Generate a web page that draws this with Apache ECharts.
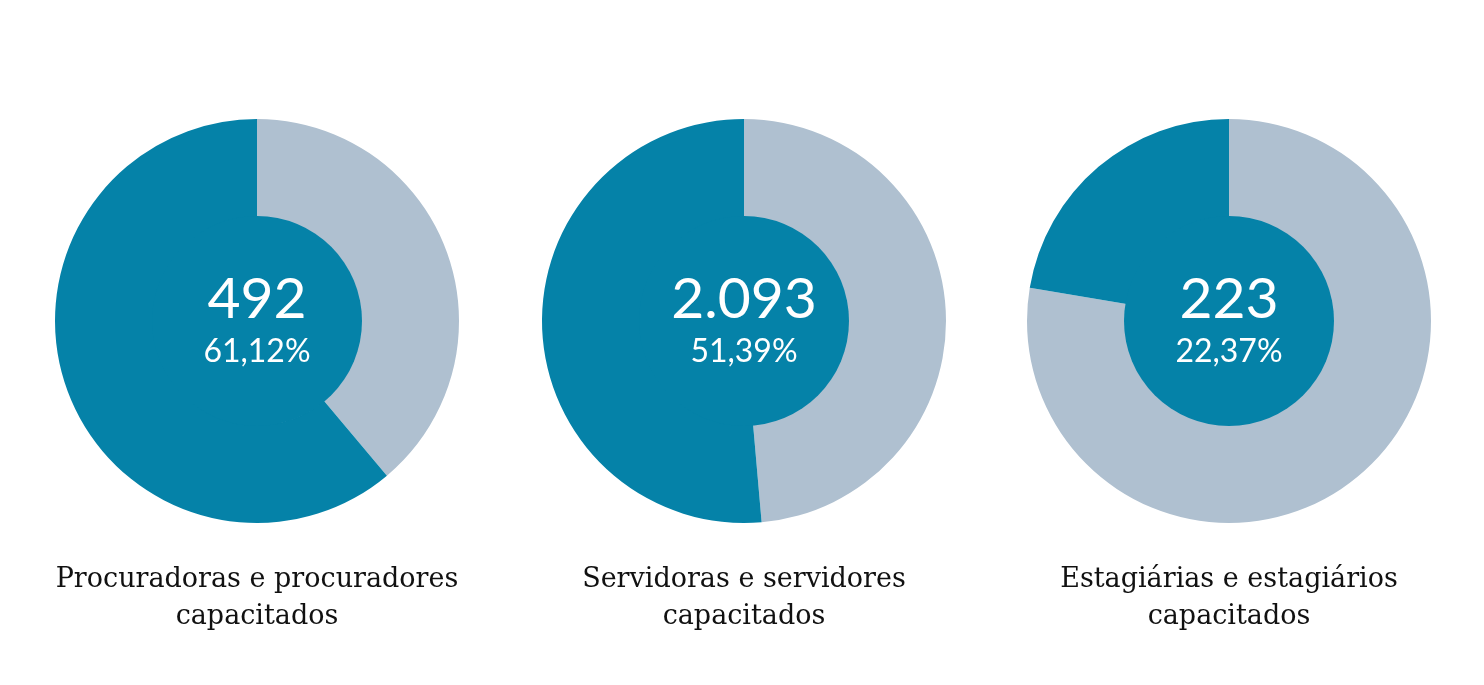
<!DOCTYPE html>
<html>
<head>
<meta charset="utf-8">
<script src="https://cdn.jsdelivr.net/npm/echarts@6/dist/echarts.min.js"></script>
<style>
html,body{margin:0;padding:0;background:#fff;}
#chart{width:1484px;height:685px;}
</style>
</head>
<body>
<div id="chart"></div>
<script>
const categories = ["Procuradoras e procuradores\ncapacitados", "Servidoras e servidores\ncapacitados", "Estagiárias e estagiários\ncapacitados"];
const counts = ["492", "2.093", "223"];
const percents = [61.12, 51.39, 22.37];
const percentLabels = ["61,12%", "51,39%", "22,37%"];

const DARK = '#0582a8';
const LIGHT = '#afc0d0';
const centersX = [257, 744, 1229];
const centerY = 321;

const chart = echarts.init(document.getElementById('chart'));
const series = [];
const titles = [];
categories.forEach((cat, i) => {
  series.push({
    type: 'pie',
    center: [centersX[i], centerY],
    radius: [104, 202],
    startAngle: 90,
    clockwise: true,
    silent: true,
    animation: false,
    label: {show: false},
    labelLine: {show: false},
    data: [
      {value: +(100 - percents[i]).toFixed(2), name: 'Outros', itemStyle: {color: LIGHT}},
      {value: percents[i], name: cat, itemStyle: {color: DARK}}
    ]
  });
  series.push({
    type: 'pie',
    center: [centersX[i], centerY],
    radius: [0, 105],
    silent: true,
    animation: false,
    labelLine: {show: false},
    label: {
      show: true,
      position: 'center',
      formatter: '{a|' + counts[i] + '}\n{b|' + percentLabels[i] + '}',
      rich: {
        a: {fontFamily: 'Lato', fontSize: 57, fontWeight: 400, color: '#fff', lineHeight: 62},
        b: {fontFamily: 'Lato', fontSize: 32, fontWeight: 400, color: '#fff', lineHeight: 42}
      }
    },
    data: [{value: 1, name: 'c' + i, itemStyle: {color: DARK}}]
  });
  titles.push({
    text: cat,
    left: centersX[i],
    top: 561,
    padding: 0,
    textAlign: 'center',
    textStyle: {fontFamily: 'DejaVu Serif', fontSize: 27, fontWeight: 'normal', color: '#111', lineHeight: 37}
  });
});

chart.setOption({
  animation: false,
  title: titles,
  series: series
});
</script>
</body>
</html>
